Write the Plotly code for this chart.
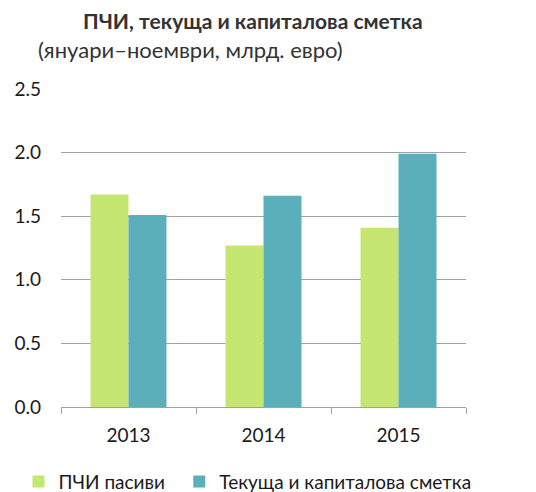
import plotly.graph_objects as go

years = ["2013", "2014", "2015"]
fdi_liabilities = [1.67, 1.27, 1.41]
current_capital = [1.51, 1.66, 1.99]
series_names = ["ПЧИ пасиви", "Текуща и капиталова сметка"]
title_text = "ПЧИ, текуща и капиталова сметка"
subtitle_text = "(януари–ноември, млрд. евро)"
y_ticks = [0, 0.5, 1.0, 1.5, 2.0, 2.5]

FONT = "Lato, Open Sans, Liberation Sans, sans-serif"
green = "#C6E672"
teal = "#5BAFBA"

fig = go.Figure()
fig.add_trace(go.Bar(x=years, y=fdi_liabilities, name=series_names[0],
                     marker=dict(color=green, line=dict(width=0)), legend="legend"))
fig.add_trace(go.Bar(x=years, y=current_capital, name=series_names[1],
                     marker=dict(color=teal, line=dict(width=0)), legend="legend2"))

legend_style = dict(orientation="h", y=-0.235, xanchor="left", yanchor="middle",
                    font=dict(size=19, color="#1a1a1a"), itemwidth=30,
                    bgcolor="rgba(0,0,0,0)")

fig.update_layout(
    width=536, height=492,
    margin=dict(l=61, r=70, t=89, b=85, autoexpand=False),
    paper_bgcolor="white", plot_bgcolor="white",
    barmode="group", bargap=0.437, bargroupgap=0,
    font=dict(family=FONT, size=18, color="#1a1a1a"),
    showlegend=True,
    legend=dict(x=-0.105, **legend_style),
    legend2=dict(x=0.292, **legend_style),
    annotations=[
        dict(text="<b>" + title_text + "</b>", xref="paper", yref="paper",
             x=0.475, y=1.0, yshift=69, xanchor="center", yanchor="middle",
             showarrow=False, font=dict(size=21, color="#333333")),
        dict(text=subtitle_text, xref="paper", yref="paper",
             x=0, xshift=-25, y=1.0, yshift=40, xanchor="left", yanchor="middle",
             showarrow=False, font=dict(size=22, color="#333333")),
    ],
)
fig.update_xaxes(showline=True, linecolor="#A0A0A0", linewidth=1,
                 ticks="outside", tickson="boundaries", ticklen=6, tickcolor="#A0A0A0",
                 ticklabelstandoff=11,
                 tickfont=dict(size=19, color="#1a1a1a"), showgrid=False)
fig.update_yaxes(range=[0, 2.5], tickvals=y_ticks, tickformat=".1f",
                 showgrid=True, gridcolor="#A0A0A0", gridwidth=1,
                 zeroline=False, showline=False, ticks="",
                 ticklabelstandoff=19,
                 tickfont=dict(size=19, color="#1a1a1a"))

fig.write_html("out.html", config={"displayModeBar": False},
               post_script="document.body.style.margin='0';")
